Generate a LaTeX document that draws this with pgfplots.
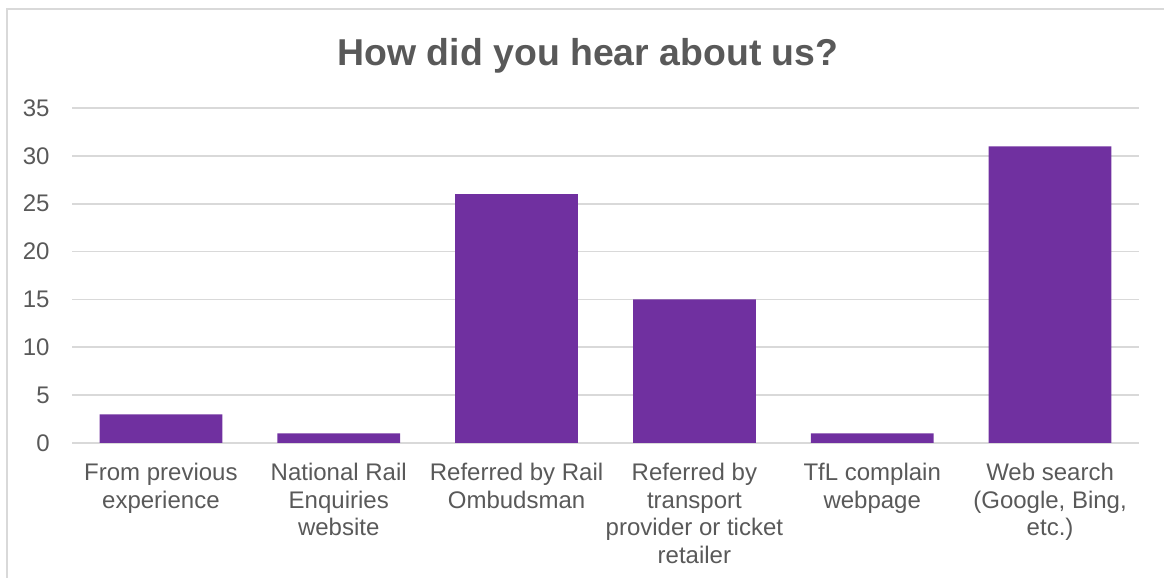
\documentclass[border=0pt]{standalone}
\usepackage{pgfplots}
\pgfplotsset{compat=1.18}
\usepackage{fontspec}
\setmainfont{Liberation Sans}
\definecolor{barpurple}{HTML}{7030A0}
\definecolor{txtgray}{HTML}{595959}
\definecolor{gridgray}{HTML}{D9D9D9}
\begin{document}
\begin{tikzpicture}[x=1pt,y=1pt]
\useasboundingbox (0,0) rectangle (582,289);
\begin{scope}
\clip (0,0) rectangle (582,289);
\draw[gridgray, line width=1pt] (3.7,-5) -- (3.7,284.5) -- (590,284.5);
\end{scope}
\node[anchor=base, inner sep=0pt, font=\bfseries\fontsize{18.7}{22}\selectfont, text=txtgray] at (294,256.3) {How did you hear about us?};
\begin{axis}[
  at={(36pt,67.5pt)}, anchor=south west,
  scale only axis, width=533.5pt, height=167.5pt,
  xmin=-0.5, xmax=5.5, ymin=0, ymax=35,
  ytick={0,5,...,35},
  xtick={0,...,5},
  xticklabels={{From previous\\experience},{National Rail\\Enquiries\\website},{Referred by Rail\\Ombudsman},{Referred by\\transport\\provider or ticket\\retailer},{TfL complain\\webpage},{Web search\\(Google, Bing,\\etc.)}},
  axis line style={draw=none},
  major tick length=0pt,
  ymajorgrids, grid style={gridgray, line width=0.8pt},
  /pgf/number format/assume math mode=true,
  ticklabel style={font=\fontsize{12}{13.8}\selectfont, text=txtgray, inner sep=0pt},
  yticklabel style={anchor=east, xshift=-11pt},
  xticklabel style={anchor=north, align=center, yshift=-10pt},
]
\addplot[ybar, fill=barpurple, draw=none, bar width=0.69, bar shift=0pt]
  coordinates {(0,3) (1,1) (2,26) (3,15) (4,1) (5,31)};
\end{axis}
\end{tikzpicture}
\end{document}
